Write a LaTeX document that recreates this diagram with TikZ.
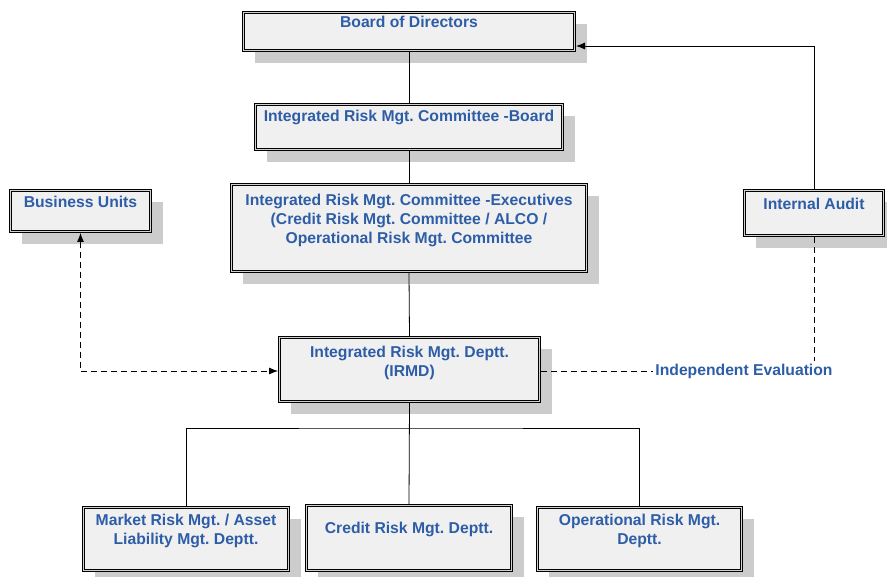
\documentclass[tikz,border=0pt]{standalone}
\usepackage{fontspec}
\setmainfont{Liberation Sans}
\usetikzlibrary{arrows.meta,shadows,calc}
\definecolor{txtblue}{HTML}{2E5DA8}
\definecolor{boxfill}{HTML}{F0F0F0}
\definecolor{shadowc}{HTML}{CCCCCC}
\frenchspacing
\newcommand\bt[4]{\parbox[c][#2][t]{#1}{\centering\vspace*{#3}#4\par}}
\begin{document}
\begin{tikzpicture}[x=1pt,y=1pt,
  box/.style={draw=black, line width=0.75pt, double=gray!35, double distance=1.3pt,
    fill=boxfill, inner sep=0pt, outer sep=1.4pt,
    drop shadow={shadow xshift=12pt, shadow yshift=-12pt, fill=shadowc, opacity=1},
    font=\fontsize{15.7}{19}\selectfont\bfseries, text=txtblue},
  conn/.style={draw=black, line width=0.8pt},
  dsh/.style={draw=black, line width=0.8pt, dash pattern=on 6pt off 4pt},
  tip/.style={-{Latex[length=9pt,width=7pt]}}
]
\useasboundingbox (0,0) rectangle (887,-577);

\node[box] (board) at (409,-31.5) {\bt{331.2pt}{38.2pt}{3.6pt}{Board of Directors}};
\node[box] (irmcb) at (409,-127) {\bt{307.2pt}{45.2pt}{5.6pt}{Integrated Risk Mgt. Committee -Board}};
\node[box] (exec) at (409,-228) {\bt{355.2pt}{87.2pt}{9.6pt}{Integrated Risk Mgt. Committee -Executives\\(Credit Risk Mgt. Committee / ALCO /\\Operational Risk Mgt. Committee}};
\node[box] (irmd) at (409.5,-369.5) {\bt{260.2pt}{64.2pt}{8.6pt}{Integrated Risk Mgt. Deptt.\\(IRMD)}};
\node[box] (bu) at (80.5,-211) {\bt{140.2pt}{41.2pt}{5.6pt}{Business Units}};
\node[box] (audit) at (814,-213) {\bt{139.2pt}{45.2pt}{7.6pt}{Internal Audit}};
\node[box] (market) at (186,-539) {\bt{205.2pt}{63.2pt}{6.6pt}{Market Risk Mgt. / Asset\\Liability Mgt. Deptt.}};
\node[box] (credit) at (409,-538) {\bt{205.2pt}{65.2pt}{16.6pt}{Credit Risk Mgt. Deptt.}};
\node[box] (oper) at (639.5,-539) {\bt{204.2pt}{63.2pt}{6.6pt}{Operational Risk Mgt.\\Deptt.}};

\node[font=\fontsize{15.7}{19}\selectfont\bfseries, text=txtblue, inner sep=2pt] (ie) at (744,-371) {Independent Evaluation};

\coordinate (bar) at (409,-428);
\coordinate (irl) at ([yshift=-1.5pt]irmd.west);
\coordinate (irr) at ([yshift=-1.5pt]irmd.east);
\coordinate (bdin) at ([yshift=6pt]board.south east);

\draw[conn] (board.south) -- (irmcb.north);
\draw[conn] (irmcb.south) -- (exec.north);
\draw[conn] (exec.south) -- (irmd.north);
\draw[conn] (irmd.south) -- (credit.north);
\draw[conn] (market.north) |- (bar) -| (oper.north);
\draw[conn,tip] (audit.north) |- (bdin);
\draw[dsh,{Latex[length=9pt,width=7pt]}-{Latex[length=9pt,width=7pt]}] (bu.south) |- (irl);
\draw[dsh] (irr) -- (ie.west |- irr);
\draw[dsh] (audit.south) -- (audit.south |- ie.north);
\end{tikzpicture}
\end{document}
